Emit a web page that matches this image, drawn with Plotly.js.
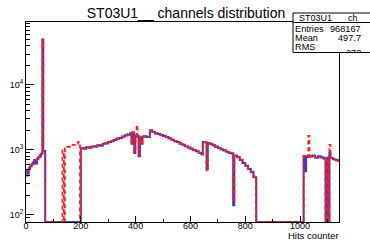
<!DOCTYPE html>
<html><head><meta charset="utf-8">
<script src="https://cdn.plot.ly/plotly-3.0.1.min.js"></script>
<style>html,body{margin:0;padding:0;background:#fff;}#chart{width:370px;height:240px;}</style>
</head><body><div id="chart"></div>
<script>
// Histogram bins (channel where each bin starts)
const binStart = [0,5,10,15,20,25,30,35,40,45,50,55,60,63,70,133,138,142,150,160,170,180,190,197,
  200,210,220,230,240,250,260,270,280,290,300,310,320,330,340,350,360,370,380,385,388,395,399,404,407,411,416,421,425,430,440,
  452,460,470,480,490,500,510,520,530,540,550,560,570,580,590,600,610,620,630,640,645,655,659,663,670,680,690,700,710,720,730,740,750,756,760,770,780,790,800,810,820,830,840,
  1013,1018,1022,1030,1034,1045,1055,1065,1075,1085,1093,1097,1103,1107,1111,1120,1130,1138];
const blueCounts = [470,430,520,560,600,640,700,620,720,780,800,870,50000,960,0,0,0,0,0,0,0,0,0,0,
  1060,1040,1100,1080,1130,1120,1180,1160,1240,1260,1320,1360,1420,1480,1530,1600,1680,1720,1800,1250,1850,900,1650,1700,1600,800,1550,1250,1600,1620,1580,
  2000,1900,1800,1760,1700,1640,1580,1500,1440,1360,1320,1250,1200,1140,1090,1040,990,950,900,860,1330,1300,500,1280,1240,1180,1130,1070,1020,980,940,900,880,140,820,780,700,630,570,510,460,380,0,
  800,470,780,820,790,820,760,800,770,740,0,760,0,900,750,720,700,680];
const redCounts = [400,450,500,540,640,600,660,700,740,760,830,860,50000,950,0,980,0,1060,1120,1150,1200,1240,1330,0,
  1050,1080,1070,1110,1120,1150,1160,1200,1220,1280,1300,1380,1400,1500,1510,1620,1660,1750,1780,1240,1870,920,1600,2400,1650,800,1600,1200,1580,1640,1600,
  1980,1920,1780,1780,1680,1660,1560,1520,1420,1380,1300,1270,1180,1160,1080,1050,1000,940,910,850,1320,1300,480,1290,1230,1200,1110,1080,1010,990,930,910,860,160,830,770,710,620,580,500,450,390,0,
  810,780,800,1650,780,800,780,790,760,750,0,740,0,1200,760,740,690,670];
const xTickVals = [0,200,400,600,800,1000];
const yTickVals = [100,1000,10000];
const yTickText = ['10<sup>2</sup>','10<sup>3</sup>','10<sup>4</sup>'];
const xMax = 1142;
const yLogMin = 1.89, yLogMax = 4.97;

const floorVal = Math.pow(10, yLogMin);
function stepSeries(counts){
  const x = binStart.concat([xMax]);
  const y = counts.map(v => v > 0 ? v : floorVal);
  y.push(y[y.length-1]);
  return {x, y};
}
const b = stepSeries(blueCounts), r = stepSeries(redCounts);
const minorY = [];
for (let d = 1; d <= 4; d++) for (let m = 2; m <= 9; m++) minorY.push(m*Math.pow(10,d));

const L = 26, R = 339, T = 22, B = 222;
const px = x => (x - L)/(R - L);
const py = y => (B - y)/(B - T);
const font = 'Liberation Sans, Arial, sans-serif';

const traces = [
  {x: b.x, y: b.y, type:'scatter', mode:'lines', line:{shape:'hv', color:'#3a3ad0', width:2}, hoverinfo:'skip'},
  {x: r.x, y: r.y, type:'scatter', mode:'lines', line:{shape:'hv', color:'#ff1c1c', width:1.8, dash:'4px,3px'}, hoverinfo:'skip'}
];

const ann = (text, x, y, xanchor, size) => ({text, x: px(x), y: py(y), xref:'paper', yref:'paper', xanchor, yanchor:'middle', showarrow:false, height:8, borderpad:0, font:{family:font, size:size||9, color:'#000'}});

const layout = {
  width:370, height:240,
  margin:{l:L, r:370-R, t:T, b:240-B, pad:0},
  paper_bgcolor:'#fff', plot_bgcolor:'#fff',
  showlegend:false,
  title:{text:'ST03U1__ channels distribution', x:186/370, xref:'container', xanchor:'center', y:1-13.5/240, yref:'container', yanchor:'middle', font:{family:font, size:14, color:'#000'}},
  xaxis:{range:[0,xMax], tickvals:xTickVals, ticks:'inside', ticklen:6, tickwidth:1, tickcolor:'#000',
    showline:true, linecolor:'#000', linewidth:1, mirror:true, showgrid:false, zeroline:false,
    ticklabelstandoff:-5,
    tickfont:{family:font, size:9, color:'#000'},
    minor:{dtick:100, tick0:0, ticks:'inside', ticklen:3, tickcolor:'#000', showgrid:false}},
  yaxis:{type:'log', range:[yLogMin,yLogMax], tickvals:yTickVals, ticktext:yTickText, ticks:'inside', ticklen:8, tickwidth:1, tickcolor:'#000',
    showline:true, linecolor:'#000', linewidth:1, mirror:true, showgrid:false, zeroline:false,
    tickfont:{family:font, size:9, color:'#000'},
    minor:{tickvals:minorY, ticks:'inside', ticklen:4, tickcolor:'#000', showgrid:false}},
  shapes:[
    {type:'rect', xref:'paper', yref:'paper', x0:px(293), x1:px(376), y0:py(52.5), y1:py(13), fillcolor:'#fff', line:{color:'#000', width:1}, layer:'above'},
    {type:'line', xref:'paper', yref:'paper', x0:px(293), x1:px(376), y0:py(22.5), y1:py(22.5), line:{color:'#000', width:1}, layer:'above'}
  ],
  annotations:[
    ann('ST03U1', 298, 17.5, 'left', 9),
    ann('ch', 347, 17.5, 'left', 9),
    ann('Entries', 294, 29, 'left', 9.2),
    ann('968167', 362, 29, 'right', 9.2),
    ann('Mean', 294, 38, 'left', 9.2),
    ann('497.7', 362, 38, 'right', 9.2),
    ann('RMS', 294, 47, 'left', 9.2),
    ann('272', 362, 53, 'right', 9.2),
    {text:' ', x:px(341), y:py(53), xref:'paper', yref:'paper', xanchor:'left', yanchor:'top', showarrow:false, width:40, height:10, bgcolor:'#fff', borderpad:0, borderwidth:0},
    {text:'Hits counter', x:px(340), y:py(235.5), xref:'paper', yref:'paper', xanchor:'right', yanchor:'middle', showarrow:false, height:10, borderpad:0, font:{family:font, size:9.5, color:'#000'}}
  ]
};
Plotly.newPlot('chart', traces, layout, {staticPlot:true, displayModeBar:false});
</script>
</body></html>
